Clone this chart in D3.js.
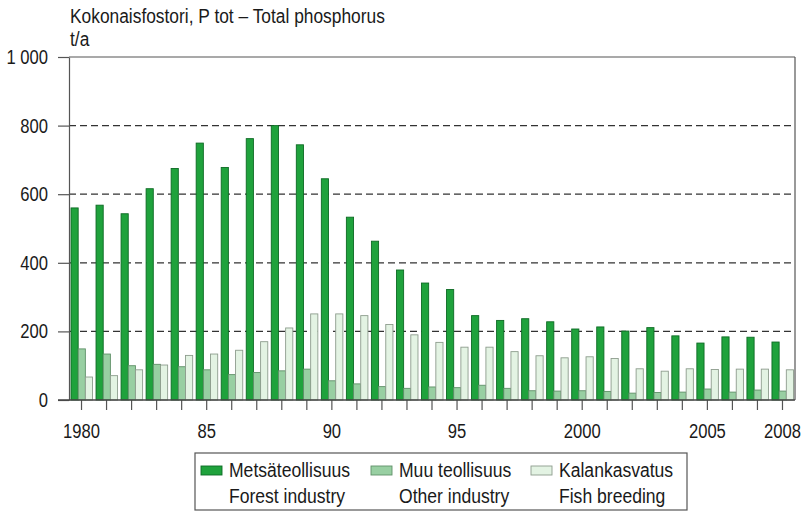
<!DOCTYPE html>
<html>
<head>
<meta charset="utf-8">
<script src="https://cdn.jsdelivr.net/npm/d3@7"></script>
<style>
  body { margin: 0; background: #fff; }
  svg text { font-family: "Liberation Sans", Arial, sans-serif; fill: #1a1a1a; }
</style>
</head>
<body>
<div id="chart"></div>
<script>
// data
const years = [1980, 1981, 1982, 1983, 1984, 1985, 1986, 1987, 1988, 1989,
               1990, 1991, 1992, 1993, 1994, 1995, 1996, 1997, 1998, 1999,
               2000, 2001, 2002, 2003, 2004, 2005, 2006, 2007, 2008]
const forestIndustry = [560, 568, 543, 616, 675, 749, 678, 762, 800, 744,
                        645, 533, 463, 379, 341, 322, 246, 232, 237, 228,
                        207, 213, 201, 211, 187, 166, 184, 183, 169]
const otherIndustry = [149, 134, 100, 104, 97, 88, 74, 80, 85, 90,
                       56, 47, 39, 34, 38, 36, 43, 34, 27, 26,
                       27, 25, 20, 22, 23, 32, 23, 29, 26]
const fishBreeding = [67, 71, 88, 102, 130, 134, 145, 170, 210, 251,
                      251, 246, 220, 190, 168, 154, 154, 141, 129, 123,
                      126, 121, 91, 84, 91, 89, 90, 90, 88]

const seriesKeys = ['forest', 'other', 'fish']
const seriesFi = ['Metsäteollisuus', 'Muu teollisuus', 'Kalankasvatus']
const seriesEn = ['Forest industry', 'Other industry', 'Fish breeding']
const seriesFill = ['#1fa23c', '#98cfa2', '#e3f3e3']
const seriesStroke = ['#0d6a24', '#5f9068', '#8d9c8d']

const yTicks = [0, 200, 400, 600, 800, 1000]
const xLabelYears = [1980, 1985, 1990, 1995, 2000, 2005, 2008]
const xLabelText = ['1980', '85', '90', '95', '2000', '2005', '2008']

const titleText = 'Kokonaisfostori, P tot \u2013 Total phosphorus'
const unitText = 't/a'

// squeeze text horizontally, the original uses a condensed face
function condense(sel, k) {
    sel.each(function() {
        const len = this.getComputedTextLength()
        if (len > 0) {
            d3.select(this)
                .attr('textLength', len * k)
                .attr('lengthAdjust', 'spacingAndGlyphs')
        }
    })
}

function drawChart() {
    const data = years.map((y, i) => ({
        year: y,
        forest: forestIndustry[i],
        other: otherIndustry[i],
        fish: fishBreeding[i]
    }))

    const margin = { top: 57, right: 9, bottom: 112, left: 69 },
    width = 804 - margin.left - margin.right,
    height = 512 - margin.top - margin.bottom

    const root = d3.select('#chart').append('svg')
        .attr('width', 804)
        .attr('height', 512)

    const svg = root.append('g')
        .attr('transform', `translate(${margin.left},${margin.top})`)

    //scales
    const xScale = d3.scaleBand()
        .domain(years)
        .range([0, width])
        .padding(0)

    const xInner = d3.scaleBand()
        .domain(seriesKeys)
        .range([2, xScale.bandwidth() - 1.5])

    const yScale = d3.scaleLinear()
        .domain([0, 1000])
        .range([height, 0])

    const fmt = d3.formatLocale({ decimal: ',', thousands: '\u00a0', grouping: [3], currency: ['', '€'] }).format(',')

    //grid
    svg.append('g')
        .selectAll('line')
        .data(yTicks.filter(d => d > 0 && d < 1000))
        .join('line')
        .attr('x1', 0)
        .attr('x2', width)
        .attr('y1', d => yScale(d))
        .attr('y2', d => yScale(d))
        .attr('stroke', '#333')
        .attr('stroke-width', 1.2)
        .attr('stroke-dasharray', '7,4')

    // frame top + right
    svg.append('line')
        .attr('x1', 0).attr('x2', width)
        .attr('y1', yScale(1000)).attr('y2', yScale(1000))
        .attr('stroke', '#555').attr('stroke-width', 1.2)
    svg.append('line')
        .attr('x1', width).attr('x2', width)
        .attr('y1', yScale(1000)).attr('y2', yScale(0))
        .attr('stroke', '#555').attr('stroke-width', 1.2)

    //bars
    const groups = svg.append('g')
        .selectAll('g')
        .data(data)
        .join('g')
        .attr('transform', d => `translate(${xScale(d.year)},0)`)

    groups.selectAll('rect')
        .data(d => seriesKeys.map((k, i) => ({ key: k, i: i, value: d[k] })))
        .join('rect')
        .attr('x', d => xInner(d.key))
        .attr('width', xInner.bandwidth())
        .attr('y', d => yScale(d.value))
        .attr('height', d => yScale(0) - yScale(d.value))
        .attr('fill', d => seriesFill[d.i])
        .attr('stroke', d => seriesStroke[d.i])
        .attr('stroke-width', 0.9)

    //axes
    const yAxisGenerator = d3.axisLeft(yScale)
        .tickValues(yTicks)
        .tickSize(11)
        .tickSizeOuter(0)
        .tickPadding(10)
        .tickFormat(d => fmt(d))

    const yAxis = svg.append('g').call(yAxisGenerator)
    yAxis.select('.domain').attr('stroke', '#555').attr('stroke-width', 1.2)
    yAxis.selectAll('.tick line').attr('stroke', '#555').attr('stroke-width', 1.2)
    yAxis.selectAll('text')
        .style('font-size', '20px')
        .attr('fill', '#1a1a1a')
        .call(condense, 0.83)

    const xAxisGenerator = d3.axisBottom(xScale)
        .tickSize(10)
        .tickSizeOuter(0)
        .tickPadding(14)
        .tickFormat(d => {
            const i = xLabelYears.indexOf(d)
            return i >= 0 ? xLabelText[i] : ''
        })

    const xAxis = svg.append('g')
        .attr('transform', `translate(0,${height})`)
        .call(xAxisGenerator)
    xAxis.select('.domain').remove()
    xAxis.selectAll('.tick line').attr('stroke', '#555').attr('stroke-width', 1.2)
    xAxis.selectAll('text')
        .style('font-size', '20px')
        .attr('fill', '#1a1a1a')
        .call(condense, 0.83)

    // baseline
    svg.append('line')
        .attr('x1', -11).attr('x2', width)
        .attr('y1', height).attr('y2', height)
        .attr('stroke', '#444').attr('stroke-width', 1.3)

    //titles
    root.append('text')
        .attr('x', 70).attr('y', 23)
        .style('font-size', '19.5px')
        .text(titleText)
        .call(condense, 0.89)
    root.append('text')
        .attr('x', 70).attr('y', 46)
        .style('font-size', '19.5px')
        .text(unitText)
        .call(condense, 0.89)

    //legend
    const legend = root.append('g').attr('transform', 'translate(195,453)')
    legend.append('rect')
        .attr('width', 492).attr('height', 57)
        .attr('fill', '#fff').attr('stroke', '#555').attr('stroke-width', 1.2)

    const legendX = [6, 176, 336]
    const items = legend.selectAll('g')
        .data(seriesKeys)
        .join('g')
        .attr('transform', (d, i) => `translate(${legendX[i]},0)`)
    items.append('rect')
        .attr('y', 13).attr('width', 21).attr('height', 9)
        .attr('fill', (d, i) => seriesFill[i])
        .attr('stroke', (d, i) => seriesStroke[i])
        .attr('stroke-width', 0.9)
    items.append('text')
        .attr('x', 28).attr('y', 24)
        .style('font-size', '19.5px')
        .text((d, i) => seriesFi[i])
        .call(condense, 0.9)
    items.append('text')
        .attr('x', 28).attr('y', 50)
        .style('font-size', '19.5px')
        .text((d, i) => seriesEn[i])
        .call(condense, 0.9)
}
drawChart()
</script>
</body>
</html>
